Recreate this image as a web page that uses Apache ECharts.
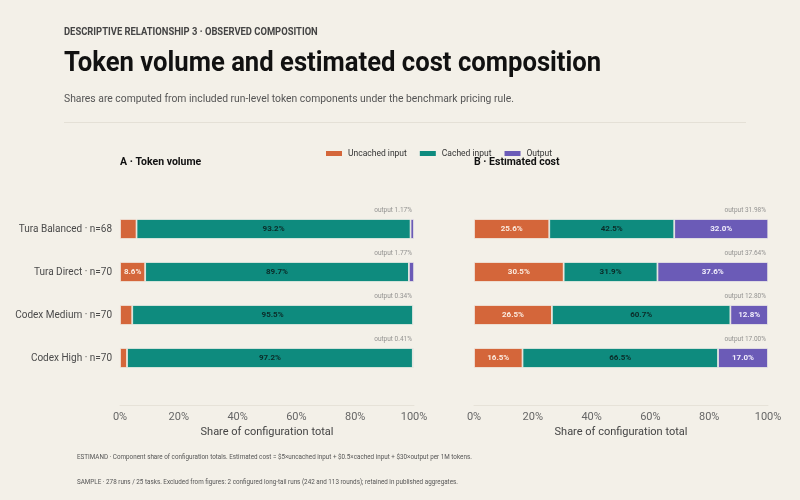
<!DOCTYPE html>
<html>
<head>
<meta charset="utf-8">
<script src="https://cdn.jsdelivr.net/npm/echarts@6/dist/echarts.min.js"></script>
<style>
html,body{margin:0;padding:0;background:#F3F0E8;}
#chart{width:800px;height:500px;}
</style>
</head>
<body>
<div id="chart"></div>
<script>
// ---- data ----
const categories = ['Tura Balanced · n=68', 'Tura Direct · n=70', 'Codex Medium · n=70', 'Codex High · n=70'];
const componentNames = ['Uncached input', 'Cached input', 'Output'];
// Panel A: token volume shares (%)
const tokenUncached = [5.63, 8.56, 4.16, 2.39];
const tokenCached = [93.2, 89.7, 95.5, 97.2];
const tokenOutput = [1.17, 1.77, 0.34, 0.41];
// Panel B: estimated cost shares (%)
const costUncached = [25.6, 30.5, 26.5, 16.5];
const costCached = [42.5, 31.9, 60.7, 66.5];
const costOutput = [31.98, 37.64, 12.80, 17.00];
const xTicks = [0, 20, 40, 60, 80, 100];

const colors = ['#D4663A', '#0E8B7E', '#6B5BB7'];
const labelColors = ['#FBEBDF', '#0B2B28', '#F1EEFB'];
const bg = '#F3F0E8';
const FONT = 'Roboto, "Noto Sans", sans-serif';

const chart = echarts.init(document.getElementById('chart'), null, {renderer: 'canvas'});

function barSeries(name, data, gi, ci) {
  return {
    name: name, type: 'bar', stack: 'p' + gi, xAxisIndex: gi, yAxisIndex: gi,
    barWidth: 20, data: data,
    itemStyle: {color: colors[ci], borderColor: bg, borderWidth: 0.8},
    label: {
      show: true, position: 'inside', fontSize: 8, fontWeight: 'bold', fontFamily: FONT,
      color: labelColors[ci],
      formatter: p => p.value >= 6 ? p.value.toFixed(1) + '%' : ''
    },
    emphasis: {disabled: true}
  };
}
function outputNote(data, gi) {
  return {
    type: 'scatter', xAxisIndex: gi, yAxisIndex: gi, symbolSize: 0, silent: true,
    data: data.map((v, i) => [100, categories[i], v]),
    label: {
      show: true, position: 'left', distance: 2, offset: [0, -18.5], fontSize: 6.5, fontFamily: FONT,
      color: '#7a7a7a',
      formatter: p => 'output ' + p.value[2].toFixed(2) + '%'
    }
  };
}
function xAxisDef(gi) {
  return {
    gridIndex: gi, type: 'value', min: 0, max: 100, interval: 20, offset: 26,
    axisLine: {show: true, lineStyle: {color: '#E6E2D8', width: 1}},
    axisTick: {show: false}, splitLine: {show: false},
    axisLabel: {color: '#666', fontSize: 11, fontFamily: FONT, margin: 6,
      formatter: v => xTicks.includes(v) ? v + '%' : ''},
    name: 'Share of configuration total', nameLocation: 'middle', nameGap: 21,
    nameTextStyle: {color: '#444', fontSize: 11, fontFamily: FONT}
  };
}
function yAxisDef(gi, showLabels) {
  return {
    gridIndex: gi, type: 'category', data: categories, inverse: true,
    axisLine: {show: false}, axisTick: {show: false},
    axisLabel: {show: showLabels, color: '#4a4a4a', fontSize: 10, fontFamily: FONT, margin: 8}
  };
}
function txt(str, x, y, font, fill, sx) {
  return {type: 'text', x: x, y: y, scaleX: sx || 1, silent: true,
    style: {text: str, font: font, fill: fill, align: 'left', verticalAlign: 'middle'}};
}

const option = {
  backgroundColor: bg,
  animation: false,
  legend: {
    data: componentNames, left: 324, top: 149, padding: 0, itemWidth: 18, itemHeight: 7, itemGap: 11,
    icon: 'rect', textStyle: {color: '#333', fontSize: 8.5, fontFamily: FONT},
    selectedMode: false
  },
  grid: [
    {left: 120, width: 294, top: 207.5, height: 172, outerBoundsMode: 'none', containLabel: false},
    {left: 474, width: 294, top: 207.5, height: 172, outerBoundsMode: 'none', containLabel: false}
  ],
  xAxis: [xAxisDef(0), xAxisDef(1)],
  yAxis: [yAxisDef(0, true), yAxisDef(1, false)],
  series: [
    barSeries(componentNames[0], tokenUncached, 0, 0),
    barSeries(componentNames[1], tokenCached, 0, 1),
    barSeries(componentNames[2], tokenOutput, 0, 2),
    outputNote(tokenOutput, 0),
    barSeries(componentNames[0], costUncached, 1, 0),
    barSeries(componentNames[1], costCached, 1, 1),
    barSeries(componentNames[2], costOutput, 1, 2),
    outputNote(costOutput, 1)
  ],
  graphic: [
    txt('DESCRIPTIVE RELATIONSHIP 3 · OBSERVED COMPOSITION', 64, 32, 'bold 10px ' + FONT, '#444', 0.94),
    txt('Token volume and estimated cost composition', 64, 64, 'bold 27px ' + FONT, '#111', 0.95),
    txt('Shares are computed from included run-level token components under the benchmark pricing rule.', 64, 99, '11px ' + FONT, '#555', 0.94),
    {type: 'rect', silent: true, shape: {x: 64, y: 122, width: 682, height: 1}, style: {fill: '#E4E0D6'}},
    txt('A · Token volume', 120, 162, 'bold 10.5px ' + FONT, '#111', 1),
    txt('B · Estimated cost', 474, 162, 'bold 10.5px ' + FONT, '#111', 1),
    txt('ESTIMAND · Component share of configuration totals. Estimated cost = $5×uncached input + $0.5×cached input + $30×output per 1M tokens.', 77, 457, '7.5px ' + FONT, '#555', 0.84),
    txt('SAMPLE · 278 runs / 25 tasks. Excluded from figures: 2 configured long-tail runs (242 and 113 rounds); retained in published aggregates.', 77, 482, '7.5px ' + FONT, '#555', 0.84)
  ]
};
chart.setOption(option);
</script>
</body>
</html>
